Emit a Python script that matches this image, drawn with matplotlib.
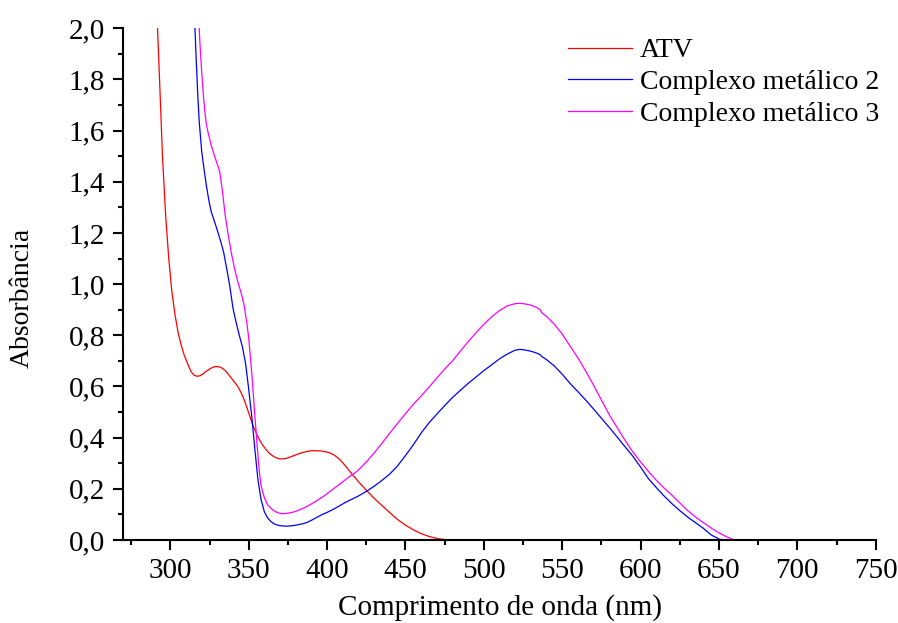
import matplotlib
matplotlib.use("Agg")
import matplotlib.pyplot as plt
from matplotlib.ticker import MultipleLocator, FuncFormatter

# ---- data ----
atv_x = [291.5, 293, 295, 297, 299, 301, 303, 305, 307, 309, 311, 313, 315, 317, 319, 321, 323, 325,
         327, 329, 331, 333, 335, 337, 339, 341, 343, 345, 347, 349, 351, 353, 355, 357, 359, 361,
         363, 365, 367, 369, 371, 373, 375, 378, 381, 384, 387, 390, 393, 396, 399, 402, 405, 408,
         411, 414, 417, 420, 425, 430, 435, 440, 445, 450, 455, 460, 465, 470, 475, 480, 500, 520,
         540, 555]
atv_y = [2.05, 1.82, 1.50, 1.27, 1.10, 0.97, 0.88, 0.81, 0.76, 0.72, 0.69, 0.66, 0.645, 0.64, 0.642,
         0.65, 0.66, 0.668, 0.675, 0.678, 0.677, 0.672, 0.662, 0.648, 0.632, 0.617, 0.60, 0.578,
         0.55, 0.515, 0.478, 0.443, 0.415, 0.39, 0.37, 0.354, 0.34, 0.33, 0.323, 0.318, 0.317,
         0.318, 0.321, 0.328, 0.335, 0.341, 0.346, 0.349, 0.349, 0.348, 0.345, 0.34, 0.33, 0.315,
         0.295, 0.272, 0.25, 0.228, 0.195, 0.163, 0.135, 0.107, 0.08, 0.058, 0.04, 0.025, 0.014,
         0.006, 0.002, 0.0, 0.0, 0.0, 0.0, 0.0]

c2_x = [315.5, 316.5, 317.5, 318.5, 320, 321.5, 323, 324.5, 326, 328, 330, 332, 334, 336, 338, 340,
        342, 344, 346, 348, 350, 352, 354, 356, 358, 360, 362, 364, 366, 368, 370, 372, 374, 376,
        378, 381, 384, 387, 390, 393, 396, 400, 404, 408, 412, 416, 420, 425, 430, 435, 440, 445,
        450, 455, 460, 465, 470, 475, 480, 485, 490, 495, 500, 505, 510, 515, 520, 523, 526, 530,
        534, 536, 537, 540, 545, 550, 555, 560, 565, 570, 575, 580, 585, 590, 595, 600, 605, 610,
        615, 620, 625, 630, 635, 640, 645, 650, 653]
c2_y = [2.03, 1.88, 1.74, 1.63, 1.52, 1.45, 1.385, 1.33, 1.285, 1.248, 1.21, 1.17, 1.125, 1.06,
        0.99, 0.905, 0.85, 0.80, 0.755, 0.69, 0.59, 0.48, 0.35, 0.23, 0.155, 0.11, 0.087, 0.073,
        0.064, 0.059, 0.056, 0.055, 0.054, 0.055, 0.056, 0.059, 0.063, 0.068, 0.077, 0.087, 0.097,
        0.108, 0.12, 0.134, 0.148, 0.16, 0.172, 0.19, 0.21, 0.233, 0.258, 0.29, 0.33, 0.372,
        0.418, 0.458, 0.492, 0.525, 0.557, 0.585, 0.612, 0.637, 0.662, 0.685, 0.708, 0.727, 0.742,
        0.745, 0.743, 0.738, 0.73, 0.724, 0.717, 0.705, 0.68, 0.648, 0.612, 0.58, 0.547, 0.512,
        0.476, 0.44, 0.403, 0.365, 0.328, 0.285, 0.24, 0.205, 0.172, 0.142, 0.115, 0.09, 0.068,
        0.046, 0.02, 0.004, 0.0]

c3_x = [318, 319, 320, 321, 322, 323, 324, 325, 326, 328, 330, 331.5, 333, 335, 337, 339, 341, 343,
        345, 347, 349, 350, 351, 352, 353, 354, 355, 356, 357, 358, 360, 362, 364, 366, 368, 370,
        372, 374, 377, 380, 384, 388, 393, 398, 403, 408, 413, 419, 425, 430, 435, 440, 445, 450,
        455, 460, 465, 470, 475, 480, 485, 490, 495, 500, 505, 510, 515, 520, 523, 526, 530, 534,
        536, 537, 540, 545, 550, 555, 560, 565, 570, 575, 580, 585, 590, 595, 600, 605, 610, 615,
        620, 625, 630, 635, 640, 645, 650, 655, 660]
c3_y = [2.05, 1.93, 1.83, 1.745, 1.675, 1.625, 1.595, 1.57, 1.545, 1.505, 1.468, 1.44, 1.375, 1.27,
        1.19, 1.12, 1.06, 1.01, 0.97, 0.92, 0.84, 0.79, 0.72, 0.65, 0.565, 0.48, 0.40, 0.32, 0.255,
        0.21, 0.165, 0.138, 0.125, 0.115, 0.108, 0.104, 0.103, 0.104, 0.107, 0.112, 0.122, 0.134,
        0.152, 0.172, 0.195, 0.218, 0.242, 0.268, 0.305, 0.34, 0.378, 0.418, 0.456, 0.494, 0.53,
        0.563, 0.597, 0.633, 0.668, 0.70, 0.738, 0.775, 0.81, 0.843, 0.872, 0.897, 0.915, 0.924,
        0.925, 0.923, 0.918, 0.908, 0.899, 0.888, 0.874, 0.843, 0.805, 0.758, 0.712, 0.66, 0.605,
        0.547, 0.49, 0.44, 0.39, 0.345, 0.305, 0.268, 0.234, 0.203, 0.175, 0.145, 0.115, 0.09,
        0.068, 0.047, 0.028, 0.012, 0.0]

labels = ["ATV", "Complexo metálico 2", "Complexo metálico 3"]
colors = ["#ff0000", "#0000ff", "#ff00ff"]

plt.rcParams['font.family'] = ['Liberation Serif', 'DejaVu Serif']

fig = plt.figure(figsize=(8.98, 6.23), dpi=100)
ax = fig.add_axes([0.1373, 0.1332, 0.9752 - 0.1373, 0.9546 - 0.1332])

for xs, ys, lab, col in zip([atv_x, c2_x, c3_x], [atv_y, c2_y, c3_y], labels, colors):
    ax.plot(xs, ys, color=col, lw=0.9, label=lab)

ax.set_xlim(270, 750)
ax.set_ylim(0, 2.0)
ax.xaxis.set_major_locator(MultipleLocator(50))
ax.xaxis.set_minor_locator(MultipleLocator(25))
ax.yaxis.set_major_locator(MultipleLocator(0.2))
ax.yaxis.set_minor_locator(MultipleLocator(0.1))
ax.yaxis.set_major_formatter(FuncFormatter(lambda v, p: f"{v:.1f}".replace('.', ',')))
ax.xaxis.set_major_formatter(FuncFormatter(lambda v, p: f"{v:.0f}"))

for s in ['top', 'right']:
    ax.spines[s].set_visible(False)
for s in ['left', 'bottom']:
    ax.spines[s].set_linewidth(1.5)

ax.tick_params(which='major', direction='out', length=7, width=1.5, labelsize=21, pad=6)
ax.tick_params(which='minor', direction='out', length=3.6, width=1.5)
ax.set_xticks([t for t in range(300, 751, 50)])

ax.set_xlabel("Comprimento de onda (nm)", fontsize=21, labelpad=7)
ax.set_ylabel("Absorbância", fontsize=20)
ax.yaxis.set_label_coords(-0.1346, 0.473)
ax.yaxis.label.set_va('center')

ax.legend(loc='upper left', bbox_to_anchor=(568 / 898, 1 - 38 / 623), bbox_transform=fig.transFigure,
          frameon=False, fontsize=20, handlelength=2.3, handletextpad=0.3, labelspacing=0.22,
          borderpad=0, borderaxespad=0)

fig.savefig("out.png", dpi=100)
